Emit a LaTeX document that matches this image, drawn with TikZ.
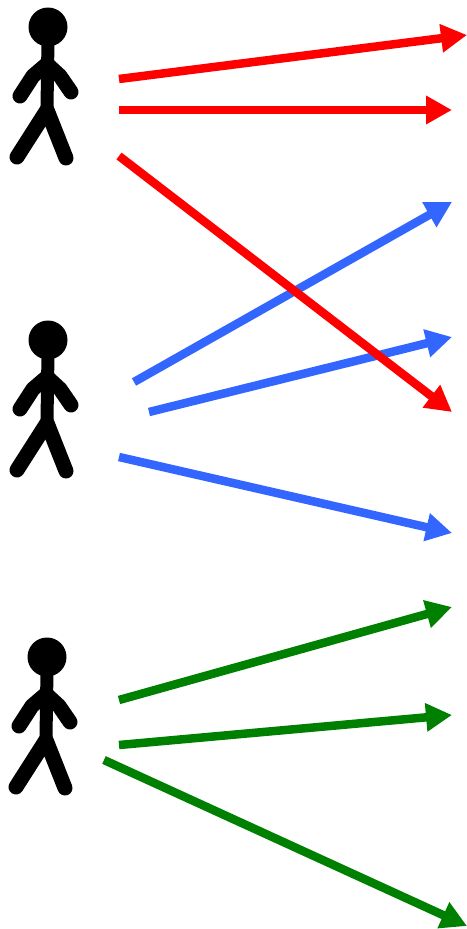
\documentclass[tikz,border=0pt]{standalone}
\usetikzlibrary{arrows.meta}
\definecolor{myblue}{RGB}{51,102,255}
\definecolor{mygreen}{RGB}{0,128,0}
\tikzset{
 x=1pt,y=-1pt,
 conn/.style={line width=8.5pt,-{Triangle[length=26pt,width=27pt,sep=0pt]},shorten >=0pt},
 limb/.style={line width=15pt,line cap=round,line join=round,black},
 person/.pic={
  \fill[black] (48,27) circle (19.5);
  \draw[line width=13pt] (48,40) -- (47,108);
  \draw[limb] (20,96) -- (33,76) -- (47,64) -- (60,76) -- (71,92);
  \draw[limb] (17,157) -- (47,110) -- (66,158);
 }
}
\begin{document}
\begin{tikzpicture}
\useasboundingbox (0,0) rectangle (466,929);
\pic at (0,0) {person};
\pic at (0,313) {person};
\pic at (-1,630) {person};
\foreach \n/\x/\y in {a/119/79,at/467/35,b/119/110,bt/452/110,c/119/156,ct/452/412,
 d/134/382,dt/452/202,e/149/412,et/452/337,f/119/457,ft/452/533,
 g/119/700,gt/452/607,h/119/745,ht/452/715,i/104/760,it/467/926}
 \coordinate (\n) at (\x,\y);
\draw[conn,red] (a) -- (at);
\draw[conn,red] (b) -- (bt);
\draw[conn,myblue] (d) -- (dt);
\draw[conn,myblue] (e) -- (et);
\draw[conn,red] (c) -- (ct);
\draw[conn,myblue] (f) -- (ft);
\draw[conn,mygreen] (g) -- (gt);
\draw[conn,mygreen] (h) -- (ht);
\draw[conn,mygreen] (i) -- (it);
\end{tikzpicture}
\end{document}
